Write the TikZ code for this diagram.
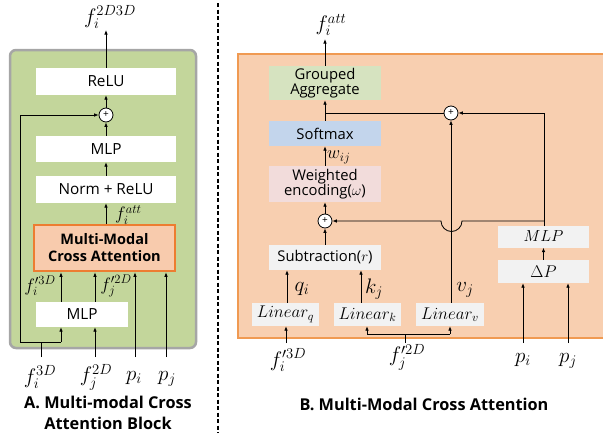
\RequirePackage{fix-cm}
\documentclass[tikz,border=0pt]{standalone}
\usepackage[no-math]{fontspec}
\setmainfont{Open Sans}
\usetikzlibrary{arrows.meta}
\definecolor{gfill}{HTML}{C3D69B}
\definecolor{gborder}{HTML}{A6A6A6}
\definecolor{ofill}{HTML}{F8CFB0}
\definecolor{oborder}{HTML}{F09A52}
\definecolor{mcafill}{HTML}{F8CBAD}
\definecolor{mcaborder}{HTML}{ED7D31}
\definecolor{aggfill}{HTML}{D6E3C0}
\definecolor{smfill}{HTML}{C3D5EC}
\definecolor{wefill}{HTML}{F2DCDB}
\definecolor{lgfill}{HTML}{F2F2F2}
\tikzset{
  arr/.style={-{Latex[length=4.5pt,width=3.6pt]}, line width=0.8pt},
  ln/.style={line width=0.8pt},
  wbox/.style={fill=white, inner sep=0pt, font=\fontsize{15.3}{17}\selectfont},
  bbox/.style={inner sep=0pt, font=\fontsize{14.8}{15}\selectfont, align=center},
  ibox/.style={inner sep=0pt, fill=lgfill, font=\fontsize{17}{19}\selectfont},
  pluscirc/.style={circle, draw, fill=white, line width=0.8pt, minimum size=14pt, inner sep=0pt, font=\fontsize{10}{10}\selectfont},
  mlab/.style={inner sep=0pt, font=\fontsize{21}{23}\selectfont},
  slab/.style={inner sep=0pt, font=\fontsize{18}{20}\selectfont},
  captext/.style={inner sep=0pt, font=\fontsize{16.3}{21}\bfseries\selectfont, align=center}
}
\begin{document}
\begin{tikzpicture}[x=1pt, y=-1pt]
\useasboundingbox (0,0) rectangle (603,439);
\clip (0,0) rectangle (603,439);
% ---------------- Panel A ----------------
\draw[gborder, fill=gfill, line width=2.5pt, rounded corners=6pt] (10,50) rectangle (196,348);
\node[wbox, minimum width=140pt, minimum height=27pt] (relu) at (106,81.5) {ReLU};
\node[pluscirc] (pA) at (106,115) {+};
\node[wbox, minimum width=140pt, minimum height=26pt] (mlpA) at (106,149) {MLP};
\node[wbox, minimum width=140pt, minimum height=27pt] (norm) at (106,189.5) {Norm + ReLU};
\node[draw=mcaborder, fill=mcafill, line width=2.5pt, minimum width=141pt, minimum height=46pt, inner sep=0pt, align=center, font=\fontsize{14.5}{17}\bfseries\selectfont] (mca) at (104.5,248) {Multi-Modal\\Cross Attention};
\node[wbox, minimum width=92pt, minimum height=25pt] (mlpB) at (82,314.5) {MLP};

\node[mlab] (outA) at (110,17) {$f_i^{2D3D}$};
\draw[arr] (relu.north) -- (106,30);
\draw[arr] (pA) -- (relu);
\draw[arr] (mlpA) -- (pA);
\draw[arr] (norm) -- (mlpA);
\draw[arr] (mca.north -| norm) -- (norm);
\node[slab, anchor=west] (fattA) at (115,215) {$f_i^{att}$};

\draw[arr] (mlpB.north -| 61,0) -- (mca.south -| 61,0);
\draw[arr] (mlpB.north -| 95,0) -- (mca.south -| 95,0);
\node[slab] (f3dp) at (40,286) {$f_i'^{3D}$};
\node[slab] (f2dp) at (116,286) {$f_j'^{2D}$};

\node[mlab] (f3dA) at (40,377) {$f_i^{3D}$};
\node[mlab] (f2dA) at (96,377) {$f_j^{2D}$};
\node[mlab] (piA) at (134,378) {$p_i$};
\node[mlab] (pjA) at (167,379) {$p_j$};
\coordinate (jA) at (41,342);
\draw[ln] (41,357) -- (jA);
\draw[ln] (20,342) -- (61,342);
\draw[arr] (61,342) -- (mlpB.south -| 61,0);
\draw[arr] (20,342) -- (20,115) -- (pA.west);
\draw[arr] (95,357) -- (mlpB.south -| 95,0);
\draw[arr] (135,357) -- (mca.south -| 135,0);
\draw[arr] (166,357) -- (mca.south -| 166,0);

\node[captext] (capA) at (108,413) {A. Multi-modal Cross\\Attention Block};

% divider
\draw[line width=1.6pt, dash pattern=on 4pt off 2.5pt] (218,3) -- (218,433);

% ---------------- Panel B ----------------
\draw[oborder, fill=ofill, line width=2.5pt] (238,54) rectangle (640,338);
\node[bbox, fill=aggfill, minimum width=112pt, minimum height=34pt] (agg) at (325,83) {Grouped\\Aggregate};
\node[bbox, fill=smfill, minimum width=112pt, minimum height=25pt] (sm) at (325,133.5) {Softmax};
\node[bbox, fill=wefill, minimum width=112pt, minimum height=36pt] (we) at (325,184) {Weighted\\encoding($\omega$)};
\node[pluscirc] (pB) at (325,221) {+};
\node[bbox, fill=lgfill, minimum width=112pt, minimum height=25pt] (sub) at (325,257.5) {Subtraction($r$)};
\node[ibox, minimum width=67pt, minimum height=23pt] (lq) at (285.5,314.5) {$Linear_q$};
\node[ibox, minimum width=67pt, minimum height=23pt] (lk) at (367.5,314.5) {$Linear_k$};
\node[ibox, minimum width=68pt, minimum height=23pt] (lv) at (450,314.5) {$Linear_v$};
\node[pluscirc] (pC) at (451,113) {+};
\node[ibox, minimum width=91pt, minimum height=22pt, font=\fontsize{16}{18}\selectfont] (mlpC) at (543.5,236.5) {$MLP$};
\node[ibox, minimum width=91pt, minimum height=23pt] (dp) at (543.5,271.5) {$\Delta P$};

\node[mlab] (outB) at (331,25) {$f_i^{att}$};
\draw[arr] (agg.north) -- (325,39);
\draw[arr] (sm) -- (agg);
\draw[ln] (pC.west) -- (325,113);
\draw[arr] (544,226) -- (544,113) -- (pC.east);
\draw[arr] (544,221) -- (462,221) arc[start angle=0, end angle=180, radius=10.5] -- (pB.east);
\draw[arr] (we) -- (sm);
\node[slab, anchor=west] (wij) at (327,157) {$w_{ij}$};
\draw[arr] (pB) -- (we);
\draw[arr] (sub) -- (pB);
\draw[arr] (lq.north -| 287,0) -- (sub.south -| 287,0);
\node[mlab] (qi) at (302,289) {$q_i$};
\draw[arr] (lk.north -| 361,0) -- (sub.south -| 361,0);
\node[mlab] (kj) at (374,289) {$k_j$};
\draw[arr] (lv.north -| 451,0) -- (pC.south);
\node[mlab] (vj) at (465,290) {$v_j$};
\draw[arr] (dp) -- (mlpC);
\draw[arr] (523,343) -- (dp.south -| 523,0);
\draw[arr] (568,343) -- (dp.south -| 568,0);

\node[mlab] (f3dB) at (288,360) {$f'^{3D}_i$};
\node[mlab] (f2dB) at (407,357) {$f'^{2D}_j$};
\node[mlab] (piB) at (523,360) {$p_i$};
\node[mlab] (pjB) at (568,361) {$p_j$};
\draw[arr] (286,343) -- (lq.south -| 286,0);
\draw[ln] (405,343) -- (405,334);
\draw[ln] (367,334) -- (450,334);
\draw[arr] (367,334) -- (lk.south -| 367,0);
\draw[arr] (450,334) -- (lv.south -| 450,0);

\node[captext] (capB) at (424,404) {B. Multi-Modal Cross Attention};
\end{tikzpicture}
\end{document}
